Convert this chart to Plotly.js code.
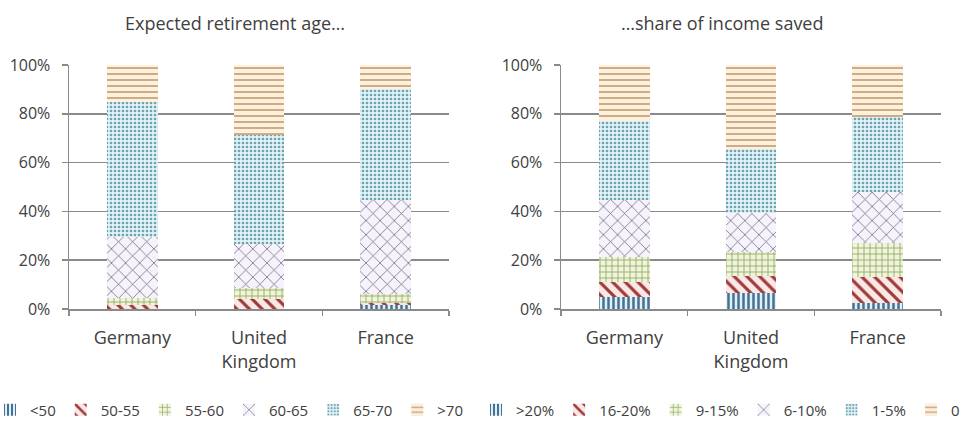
<!DOCTYPE html>
<html>
<head>
<meta charset="utf-8">
<script src="https://cdn.plot.ly/plotly-3.0.1.min.js"></script>
<style>html,body{margin:0;padding:0;background:#fff;}#chart{width:961px;height:422px;}</style>
</head>
<body>
<div id="chart"></div>
<script>
// ---- data ----
const countries = ["Germany", "United<br>Kingdom", "France"];

const ageLabels = ["<50", "50-55", "55-60", "60-65", "65-70", ">70"];
const ageLt50   = [0, 0, 1.5];
const age50_55  = [1.5, 4, 1];
const age55_60  = [3, 4.5, 3.5];
const age60_65  = [25, 18, 38.5];
const age65_70  = [55.5, 45, 45.5];
const ageGt70   = [15, 28.5, 10];

const saveLabels = [">20%", "16-20%", "9-15%", "6-10%", "1-5%", "0"];
const saveGt20   = [5, 6.5, 2.5];
const save16_20  = [6, 7, 10.5];
const save9_15   = [10.5, 10, 14];
const save6_10   = [23, 16, 21];
const save1_5    = [32.5, 26, 30.5];
const save0      = [23, 34.5, 21.5];

const ageSeries  = [ageLt50, age50_55, age55_60, age60_65, age65_70, ageGt70];
const saveSeries = [saveGt20, save16_20, save9_15, save6_10, save1_5, save0];

// ---- styles ----
const styles = [
  {fg: "#4a6f8f", bg: "#dcf2fa", shape: "|",  size: 5,  solidity: 0.5},
  {fg: "#9b3b3a", bg: "#fbe8e6", shape: "\\", size: 9,  solidity: 0.35},
  {fg: "#8ea35a", bg: "#eef5dc", shape: "+",  size: 6,  solidity: 0.25},
  {fg: "#6e6888", bg: "#f7f3fb", shape: "x",  size: 10, solidity: 0.15},
  {fg: "#6ea4b2", bg: "#e2f2f6", shape: ".",  size: 4,  solidity: 0.35},
  {fg: "#c9a67c", bg: "#fdf0dc", shape: "-",  size: 6,  solidity: 0.3}
];

const FONT = "Open Sans, sans-serif";
const TXT = "#404040";
const GRID = "#8a8a8a";

function mk(vals, name, st, xa, ya, leg) {
  return {
    type: "bar", x: countries, y: vals, name: name,
    xaxis: xa, yaxis: ya, legend: leg,
    marker: {color: st.fg, line: {width: 0},
      pattern: {shape: st.shape, fgcolor: st.fg, bgcolor: st.bg, size: st.size, solidity: st.solidity, fillmode: "replace"}},
    hoverinfo: "name+y"
  };
}

const traces = [];
ageSeries.forEach((v, i) => traces.push(mk(v, ageLabels[i], styles[i], "x", "y", "legend")));
saveSeries.forEach((v, i) => traces.push(mk(v, saveLabels[i], styles[i], "x2", "y2", "legend2")));

const W = 961, H = 422;
const px = v => v / W, py = v => 1 - v / H;

function xax(d) {
  return {domain: d, type: "category", tickson: "boundaries", ticks: "outside", ticklen: 5,
    tickcolor: GRID, tickwidth: 1.5, showline: true, linecolor: GRID, linewidth: 1.5,
    showgrid: false, tickfont: {family: FONT, size: 18, color: TXT}, fixedrange: true, ticklabelstandoff: 12};
}
function yax(anchor) {
  return {domain: [py(309), py(65)], anchor: anchor, range: [0, 100], dtick: 20, ticksuffix: "%",
    showgrid: true, gridcolor: GRID, gridwidth: 1.5, showline: true, linecolor: GRID, linewidth: 1.5,
    ticks: "outside", ticklen: 6, tickcolor: GRID, tickwidth: 1.5, zeroline: false,
    tickfont: {family: FONT, size: 16, color: TXT}, ticklabelstandoff: 8, fixedrange: true};
}

const legFont = {family: FONT, size: 15, color: TXT};

const layout = {
  width: W, height: H,
  margin: {l: 0, r: 0, t: 0, b: 0, autoexpand: false},
  paper_bgcolor: "#fff", plot_bgcolor: "#fff",
  barmode: "stack", bargap: 0.6,
  font: {family: FONT, color: TXT},
  xaxis: Object.assign(xax([px(69), px(449)]), {anchor: "y"}),
  yaxis: yax("x"),
  xaxis2: Object.assign(xax([px(561), px(941)]), {anchor: "y2"}),
  yaxis2: yax("x2"),
  legend: {orientation: "h", x: px(-10), xanchor: "left", y: py(410), yanchor: "middle",
    font: legFont, itemwidth: 30, traceorder: "normal", bgcolor: "rgba(0,0,0,0)"},
  legend2: {orientation: "h", x: px(476), xanchor: "left", y: py(410), yanchor: "middle",
    font: legFont, itemwidth: 30, traceorder: "normal", bgcolor: "rgba(0,0,0,0)"},
  annotations: [
    {text: "Expected retirement age…", xref: "paper", yref: "paper", x: px(235), y: py(23),
      xanchor: "center", yanchor: "middle", showarrow: false, font: {family: FONT, size: 18, color: TXT}},
    {text: "…share of income saved", xref: "paper", yref: "paper", x: px(722), y: py(23),
      xanchor: "center", yanchor: "middle", showarrow: false, font: {family: FONT, size: 18, color: TXT}}
  ],
  showlegend: true
};

Plotly.newPlot("chart", traces, layout, {displayModeBar: false, staticPlot: true});
</script>
</body>
</html>
